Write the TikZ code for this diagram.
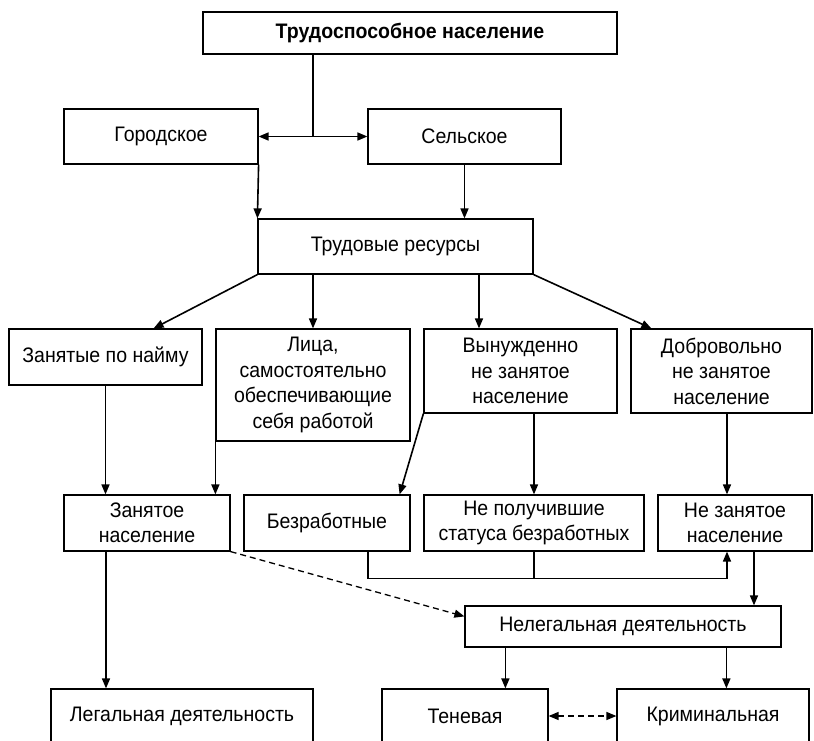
\documentclass[tikz,border=0pt]{standalone}
\usepackage{fontspec}
\setmainfont[FakeStretch=0.93]{Liberation Sans}
\usetikzlibrary{arrows.meta,calc}
\begin{document}
\begin{tikzpicture}[x=1pt,y=1pt,
  box/.style={draw,line width=1.2pt,inner sep=0pt,align=center,
    font=\fontsize{21}{25.5}\selectfont},
  arr/.style={line width=1.6pt,-{Triangle[length=10pt,width=8pt]}},
  ln/.style={line width=1.6pt},
  dsh/.style={line width=1.3pt,dash pattern=on 6pt off 4pt}]
\useasboundingbox (0,0) rectangle (814,-741);
\clip (0,0) rectangle (814,-741);
\fill[white] (0,0) rectangle (814,-741);
% nodes
\node[box,minimum width=414,minimum height=42,font=\fontsize{21}{25.5}\selectfont\bfseries] (top) at (410,-33) {Трудоспособное население};
\node[box,minimum width=194,minimum height=55] (gor) at (161,-136.5) {Городское};
\node[box,minimum width=193,minimum height=55] (sel) at (464.5,-136.5) {Сельское};
\node[box,minimum width=275,minimum height=55] (trud) at (395.5,-246.5) {Трудовые ресурсы};
\node[box,minimum width=193,minimum height=56] (zan) at (105.5,-357) {Занятые по найму};
\node[box,minimum width=194,minimum height=112] (lica) at (313,-385) {Лица,\\самостоятельно\\обеспечивающие\\себя работой};
\node[box,minimum width=193,minimum height=84] (vyn) at (520.5,-371) {Вынужденно\\не занятое\\население};
\node[box,minimum width=181,minimum height=84] (dobr) at (721.5,-371) {Добровольно\\не занятое\\население};
\node[box,minimum width=166,minimum height=56] (zann) at (147,-523) {Занятое\\население};
\node[box,minimum width=166,minimum height=56] (bez) at (327,-523) {Безработные};
\node[box,minimum width=220,minimum height=56] (nepol) at (534,-523) {Не получившие\\статуса безработных};
\node[box,minimum width=154,minimum height=56] (nezan) at (735,-523) {Не занятое\\население};
\node[box,minimum width=316,minimum height=41] (nelegal) at (623,-626.5) {Нелегальная деятельность};
\node[box,minimum width=262,minimum height=54] (legal) at (182,-716) {Легальная деятельность};
\node[box,minimum width=166,minimum height=54] (ten) at (465,-716) {Теневая};
\node[box,minimum width=192,minimum height=54] (krim) at (713,-716) {Криминальная};
% connectors
\coordinate (j1) at (313,-136.5);
\draw[ln] (top.south -| j1) -- (j1);
\draw[arr] (j1) -- (gor);
\draw[arr] (j1) -- (sel);
\draw[arr] (gor.south east) -- (trud.north west);
\draw[arr] (sel.south) -- (sel.south |- trud.north);
\draw[arr] (trud.south west) -- ($(zan.north east)+(-49,0)$);
\draw[arr] (trud.south -| lica.north) -- (lica.north);
\coordinate (v1) at ($(vyn.north)+(-41.5,0)$);
\draw[arr] (trud.south -| v1) -- (v1);
\draw[arr] (trud.south east) -- ($(dobr.north west)+(21,0)$);
\draw[arr] (zan.south) -- (zan.south |- zann.north);
\draw[arr] (lica.south west) -- (lica.south west |- zann.north);
\draw[arr] (vyn.south west) -- ($(bez.north east)+(-11,0)$);
\draw[arr] (vyn.south -| nepol.north) -- (nepol.north);
\coordinate (d1) at ($(nezan.north)+(-8,0)$);
\draw[arr] (dobr.south -| d1) -- (d1);
\coordinate (b1) at ($(bez.south)+(41,0)$);
\coordinate (b2) at ($(b1)+(0,-27)$);
\coordinate (d2) at ($(nezan.south)+(-8,0)$);
\draw[ln] (b1) -- (b2) -- (b2 -| d2);
\draw[arr] (b2 -| d2) -- (d2);
\draw[ln] (nepol.south) -- (nepol.south |- b2);
\coordinate (n1) at ($(nezan.south)+(19,0)$);
\draw[arr] (n1) -- (n1 |- nelegal.north);
\draw[dsh,-{Triangle[length=10pt,width=8pt]}] (zann.south east) -- ($(nelegal.north west)+(0,-11)$);
\coordinate (z1) at ($(zann.south)+(-41,0)$);
\draw[arr] (z1) -- (z1 |- legal.north);
\coordinate (t1) at ($(nelegal.south west)+(41,0)$);
\draw[arr] (t1) -- (t1 |- ten.north);
\coordinate (k1) at ($(nelegal.south west)+(262,0)$);
\draw[arr] (k1) -- (k1 |- krim.north);
\draw[dsh,{Triangle[length=10pt,width=8pt]}-{Triangle[length=10pt,width=8pt]}] (ten.east) -- (krim.west);
\end{tikzpicture}
\end{document}
